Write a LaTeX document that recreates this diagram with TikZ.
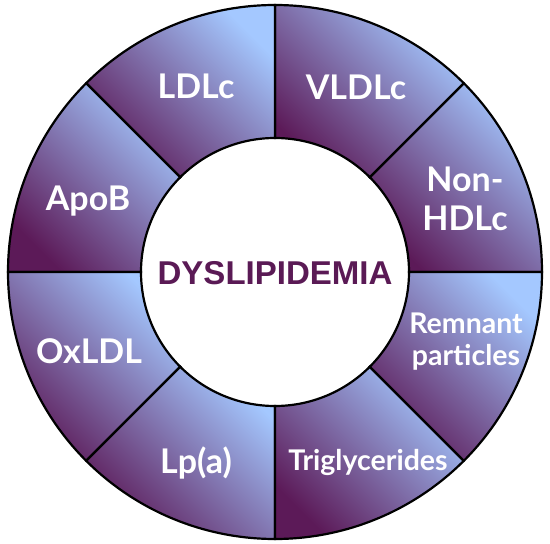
\documentclass[tikz,border=0pt]{standalone}
\usepackage{fontspec}
\setmainfont{Liberation Sans}
\newfontfamily\segfont{Lato}
\usetikzlibrary{positioning}
\definecolor{lipidpurple}{RGB}{92,26,88}
\definecolor{lipidblue}{RGB}{164,200,255}
\definecolor{titlepurple}{RGB}{90,26,85}
\tikzstyle{sector} = [draw=black, line width=2.2bp, bottom color=lipidpurple,
	top color=lipidblue, shading angle=-45]
\tikzstyle{biglabel} = [text=white, align=center,
	font=\segfont\bfseries\fontsize{34bp}{39bp}\selectfont]
\tikzstyle{smalllabel} = [text=white, align=center,
	font=\segfont\bfseries\fontsize{28.5bp}{32bp}\selectfont]
\tikzstyle{centertext} = [text=titlepurple,
	font=\bfseries\fontsize{33bp}{36bp}\selectfont]

\begin{document}
\begin{tikzpicture}
	\useasboundingbox (-275bp,-272bp) rectangle (275bp,272bp);

	% set up ring sectors
	\path[sector] (0:134bp) -- (0:267bp) arc[start angle=0, end angle=45, radius=267bp] -- (45:134bp) arc[start angle=45, end angle=0, radius=134bp] -- cycle;
	\path[sector] (45:134bp) -- (45:267bp) arc[start angle=45, end angle=90, radius=267bp] -- (90:134bp) arc[start angle=90, end angle=45, radius=134bp] -- cycle;
	\path[sector] (90:134bp) -- (90:267bp) arc[start angle=90, end angle=135, radius=267bp] -- (135:134bp) arc[start angle=135, end angle=90, radius=134bp] -- cycle;
	\path[sector] (135:134bp) -- (135:267bp) arc[start angle=135, end angle=180, radius=267bp] -- (180:134bp) arc[start angle=180, end angle=135, radius=134bp] -- cycle;
	\path[sector] (180:134bp) -- (180:267bp) arc[start angle=180, end angle=225, radius=267bp] -- (225:134bp) arc[start angle=225, end angle=180, radius=134bp] -- cycle;
	\path[sector] (225:134bp) -- (225:267bp) arc[start angle=225, end angle=270, radius=267bp] -- (270:134bp) arc[start angle=270, end angle=225, radius=134bp] -- cycle;
	\path[sector] (270:134bp) -- (270:267bp) arc[start angle=270, end angle=315, radius=267bp] -- (315:134bp) arc[start angle=315, end angle=270, radius=134bp] -- cycle;
	\path[sector] (315:134bp) -- (315:267bp) arc[start angle=315, end angle=360, radius=267bp] -- (360:134bp) arc[start angle=360, end angle=315, radius=134bp] -- cycle;

	% set up labels
	\node (ldlc) [biglabel] at (-79bp,186bp) {LDLc};
	\node (vldlc) [biglabel] at (81bp,185bp) {VLDLc};
	\node (nonhdl) [biglabel] at (190bp,73bp) {Non-\\HDLc};
	\node (remnant) [smalllabel] at (191bp,-70bp) {Remnant\\particles};
	\node (trig) [smalllabel] at (93bp,-190bp) {Triglycerides};
	\node (lpa) [biglabel] at (-79bp,-191bp) {Lp(a)};
	\node (oxldl) [biglabel] at (-186bp,-79bp) {OxLDL};
	\node (apob) [biglabel] at (-187bp,71bp) {ApoB};

	% center title
	\node (dyslip) [centertext] at (0,-1bp) {DYSLIPIDEMIA};

\end{tikzpicture}
\end{document}
